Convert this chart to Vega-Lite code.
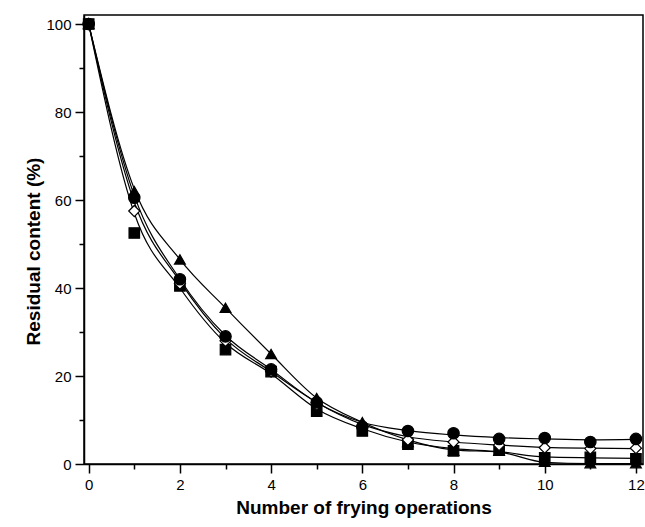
{
  "$schema": "https://vega.github.io/schema/vega-lite/v6.json",
  "width": 559,
  "height": 449,
  "autosize": {"type": "none"},
  "padding": {"left": 84, "top": 15, "right": 2, "bottom": 63},
  "background": "white",
  "config": {
    "view": {"stroke": "black", "strokeWidth": 1.5},
    "font": "Liberation Sans",
    "axis": {
      "domainColor": "black",
      "domainWidth": 1.5,
      "tickColor": "black",
      "tickWidth": 1.5,
      "labelColor": "black",
      "labelFont": "Liberation Sans",
      "labelFontSize": 15,
      "titleFont": "Liberation Sans",
      "titleFontSize": 19,
      "titleFontWeight": "bold",
      "titleColor": "black",
      "grid": false,
      "labelOverlap": false,
      "labelBound": false,
      "labelFlush": false
    }
  },
  "data": {
    "values": [
      {"x": 0, "series": "S", "value": 100, "fit": 100},
      {"x": 1, "series": "S", "value": 52.5, "fit": 57},
      {"x": 2, "series": "S", "value": 40.5, "fit": 40},
      {"x": 3, "series": "S", "value": 26, "fit": 27.5},
      {"x": 4, "series": "S", "value": 21, "fit": 20.5},
      {"x": 5, "series": "S", "value": 12, "fit": 12.5},
      {"x": 6, "series": "S", "value": 7.5, "fit": 8},
      {"x": 7, "series": "S", "value": 4.5, "fit": 5},
      {"x": 8, "series": "S", "value": 3, "fit": 3.5},
      {"x": 9, "series": "S", "value": 3.2, "fit": 2.8},
      {"x": 10, "series": "S", "value": 1.4, "fit": 1.6},
      {"x": 11, "series": "S", "value": 1.5, "fit": 1.4},
      {"x": 12, "series": "S", "value": 1.2, "fit": 1.3},
      {"x": 0, "series": "T", "value": 100, "fit": 100},
      {"x": 1, "series": "T", "value": 62, "fit": 62.5},
      {"x": 2, "series": "T", "value": 46.5, "fit": 46.5},
      {"x": 3, "series": "T", "value": 35.5, "fit": 35.5},
      {"x": 4, "series": "T", "value": 25, "fit": 25},
      {"x": 5, "series": "T", "value": 15, "fit": 15},
      {"x": 6, "series": "T", "value": 9.5, "fit": 9.5},
      {"x": 7, "series": "T", "value": 5, "fit": 5.5},
      {"x": 8, "series": "T", "value": 3, "fit": 3.2},
      {"x": 9, "series": "T", "value": 3, "fit": 2.7},
      {"x": 10, "series": "T", "value": 0.5, "fit": 0.4},
      {"x": 11, "series": "T", "value": 0.2, "fit": 0.1},
      {"x": 12, "series": "T", "value": 0.2, "fit": 0.1},
      {"x": 0, "series": "D", "value": 100, "fit": 100},
      {"x": 1, "series": "D", "value": 57.5, "fit": 59.5},
      {"x": 2, "series": "D", "value": 41, "fit": 41.5},
      {"x": 3, "series": "D", "value": 28, "fit": 28.5},
      {"x": 4, "series": "D", "value": 21, "fit": 21},
      {"x": 5, "series": "D", "value": 13.5, "fit": 14},
      {"x": 6, "series": "D", "value": 8.5, "fit": 9},
      {"x": 7, "series": "D", "value": 5.5, "fit": 6.2},
      {"x": 8, "series": "D", "value": 5, "fit": 5},
      {"x": 9, "series": "D", "value": 4.3, "fit": 4.3},
      {"x": 10, "series": "D", "value": 3.7, "fit": 3.8},
      {"x": 11, "series": "D", "value": 3.5, "fit": 3.6},
      {"x": 12, "series": "D", "value": 3.6, "fit": 3.5},
      {"x": 0, "series": "C", "value": 100, "fit": 100},
      {"x": 1, "series": "C", "value": 60.5, "fit": 61},
      {"x": 2, "series": "C", "value": 42, "fit": 42},
      {"x": 3, "series": "C", "value": 29, "fit": 29.2},
      {"x": 4, "series": "C", "value": 21.5, "fit": 21.5},
      {"x": 5, "series": "C", "value": 14, "fit": 14},
      {"x": 6, "series": "C", "value": 8.5, "fit": 9.5},
      {"x": 7, "series": "C", "value": 7.5, "fit": 7.6},
      {"x": 8, "series": "C", "value": 7, "fit": 6.6},
      {"x": 9, "series": "C", "value": 5.7, "fit": 6},
      {"x": 10, "series": "C", "value": 5.9, "fit": 5.7},
      {"x": 11, "series": "C", "value": 5, "fit": 5.5},
      {"x": 12, "series": "C", "value": 5.7, "fit": 5.6}
    ]
  },
  "encoding": {
    "x": {
      "field": "x",
      "type": "quantitative",
      "scale": {"domain": [-0.103, 12.155], "nice": false, "zero": false},
      "axis": {
        "title": "Number of frying operations",
        "values": [0,1,2,3,4,5,6,7,8,9,10,11,12],
        "labelExpr": "datum.value % 2 === 0 ? datum.label : ''",
        "tickSize": {"condition": {"test": "datum.value % 2 === 0", "value": 9}, "value": 5},
        "labelPadding": 4,
        "titlePadding": 6
      }
    }
  },
  "layer": [
    {
      "mark": {"type": "line", "interpolate": "monotone", "color": "black", "strokeWidth": 1.2},
      "encoding": {
        "y": {
          "field": "fit",
          "type": "quantitative",
          "scale": {"domain": [0, 102.05], "nice": false},
          "axis": {
            "title": "Residual content (%)",
            "values": [0,10,20,30,40,50,60,70,80,90,100],
            "labelExpr": "datum.value % 20 === 0 ? datum.label : ''",
            "tickSize": {"condition": {"test": "datum.value % 20 === 0", "value": 9}, "value": 5},
            "labelPadding": 4,
            "titlePadding": 2,
            "titleY": 236
          }
        },
        "detail": {"field": "series"}
      }
    },
    {
      "mark": {"type": "point", "filled": true, "stroke": "black", "strokeWidth": 1.2, "opacity": 1},
      "encoding": {
        "y": {"field": "value", "type": "quantitative"},
        "shape": {
          "field": "series",
          "type": "nominal",
          "scale": {"domain": ["S", "T", "D", "C"], "range": ["square", "triangle-up", "diamond", "circle"]},
          "legend": null
        },
        "fill": {
          "field": "series",
          "type": "nominal",
          "scale": {"domain": ["S", "T", "D", "C"], "range": ["black", "black", "white", "black"]},
          "legend": null
        },
        "size": {
          "field": "series",
          "type": "nominal",
          "scale": {"domain": ["S", "T", "D", "C"], "range": [110, 130, 120, 115]},
          "legend": null
        }
      }
    }
  ]
}
